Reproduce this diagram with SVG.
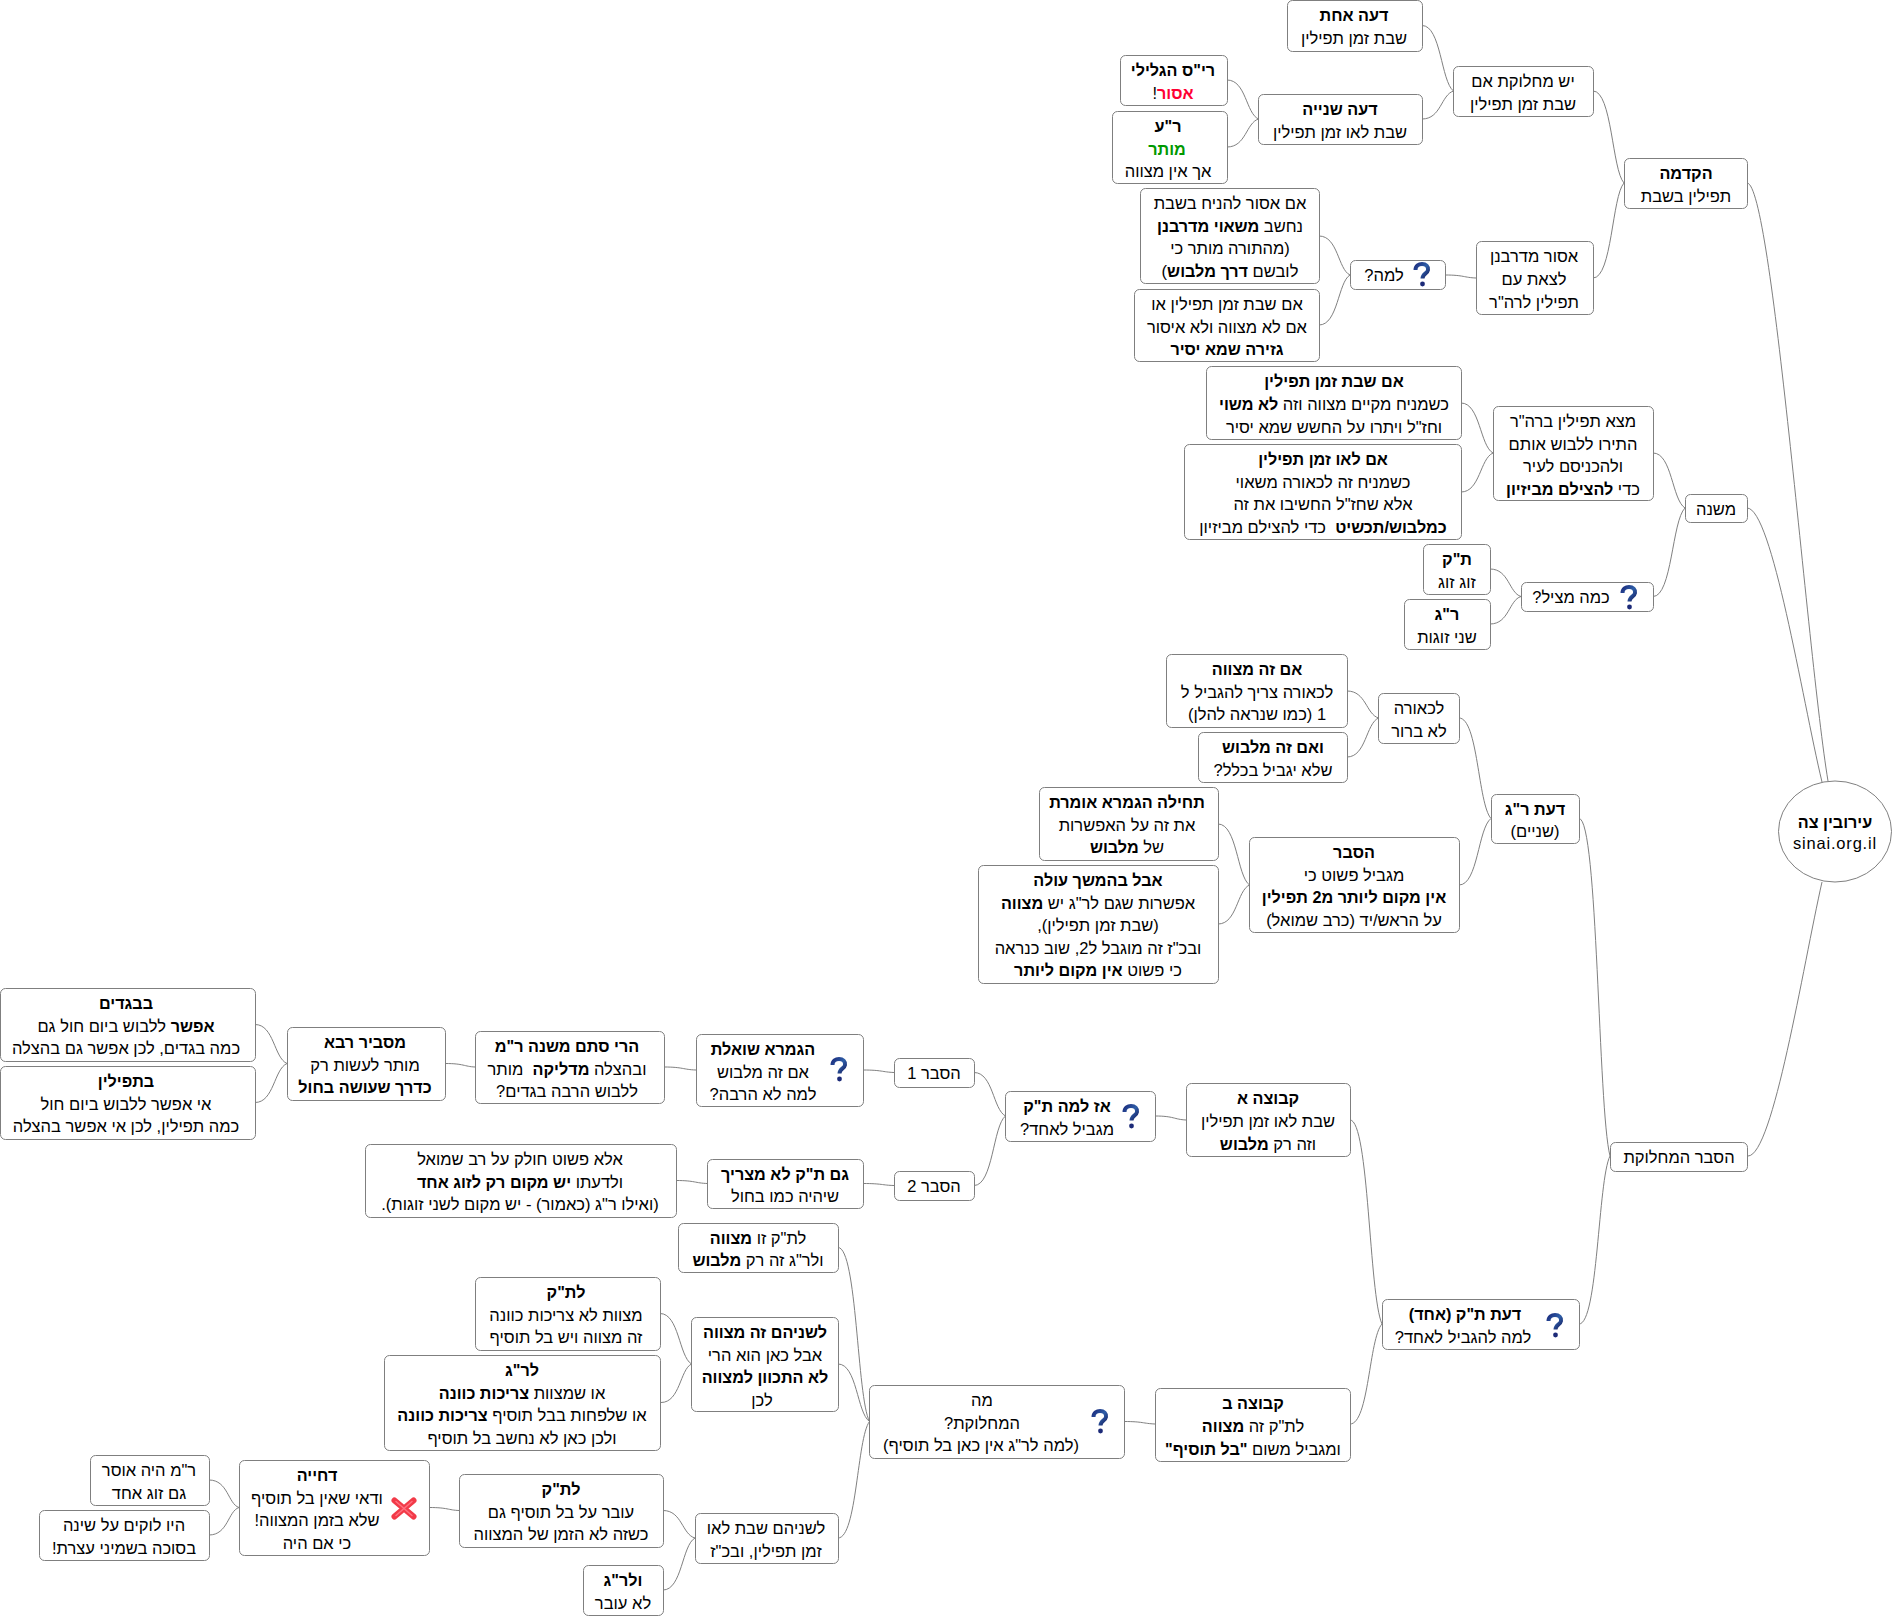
<svg xmlns="http://www.w3.org/2000/svg" width="1892" height="1616" viewBox="0 0 1892 1616">
<style>
rect.n,ellipse.n{fill:#fff;stroke:#7f7f7f;stroke-width:1}
#connectors path{fill:none;stroke:#808080;stroke-width:1}
text{font-family:"Liberation Sans",Arial,sans-serif;font-size:16.500px;fill:#000;text-anchor:middle;direction:rtl}
.b{font-weight:bold;font-size:16.200px}
</style>
<defs>
<linearGradient id="qg" x1="0" y1="0" x2="1" y2="1"><stop offset="0" stop-color="#1c2f80"/><stop offset=".5" stop-color="#2f5fa8"/><stop offset="1" stop-color="#141c60"/></linearGradient>
<symbol id="q" viewBox="0 0 18 25" width="18" height="25"><path d="M2.5 8C2.5 3.500 6 2 9 2C13 2 15.500 4.500 15 8C14.500 11.500 9.500 11.500 9.500 16.500" fill="none" stroke="url(#qg)" stroke-width="4"/><circle cx="9.500" cy="22" r="2.400" fill="#1c2a78"/></symbol>
<symbol id="x" viewBox="0 0 26 23" width="26" height="23"><path d="M3.500 3.500L22.500 19.500M22.500 3.500L3.500 19.500" fill="none" stroke="#f23a48" stroke-width="6" stroke-linecap="round"/><path d="M5 4.500L21 18.500M21 4.500L5 18.500" fill="none" stroke="#ff7080" stroke-width="1.500" stroke-linecap="round"/></symbol>
</defs>
<g id="connectors">
<path d="M1422 25.500c19 0 19 56 31.500 65.500"/>
<path d="M1422 119c19 0 19-24 31.500-28"/>
<path d="M1227 80c19 0 19 33.500 31.500 39"/>
<path d="M1227 147c19 0 19-24 31.500-28"/>
<path d="M1593 91c19 0 19 79 31 92"/>
<path d="M1593 278c19 0 19-82 31-95"/>
<path d="M1319 236c19 0 19 33.500 31 39"/>
<path d="M1319 325c19 0 19-43 31-50"/>
<path d="M1445 275c19 0 19 2.600 31 3"/>
<path d="M1747 183c25 0 60 470 81 598"/>
<path d="M1747 508c25 0 55 190 75 274"/>
<path d="M1461 403c19 0 19 43 32 50"/>
<path d="M1461 492c19 0 19-33.500 32-39"/>
<path d="M1653 453c19 0 19 47 32 55"/>
<path d="M1490 569c19 0 19 24 31 27.500"/>
<path d="M1490 624c19 0 19-24 31-27.500"/>
<path d="M1653 596.500c19 0 19-76 32-88.500"/>
<path d="M1347 691c19 0 19 23 31.500 27"/>
<path d="M1347 757c19 0 19-33.500 31.500-39"/>
<path d="M1459 718c19 0 19 86 32 100.500"/>
<path d="M1218 824c19 0 19 52 31.500 61"/>
<path d="M1218 924c19 0 19-33.500 31.500-39"/>
<path d="M1459 885c19 0 19-57 32-66.500"/>
<path d="M1579 818.500c19 0 19 290 31 337.500"/>
<path d="M1579 1324c19 0 19-144 31-168"/>
<path d="M1748 1156c25 0 55-190 74-274"/>
<path d="M1350 1120c19 0 19 175 32 204"/>
<path d="M1350 1424c19 0 19-86 32-100"/>
<path d="M1155 1116c19 0 19 3.400 31 4"/>
<path d="M974 1072.500c19 0 19 37 31.500 43.500"/>
<path d="M974 1185.500c19 0 19-60 31.500-69.500"/>
<path d="M863 1070c19 0 19 2 31 2.500"/>
<path d="M863 1183.500c19 0 19 1.700 31 2"/>
<path d="M664 1067c19 0 19 2.600 32 3"/>
<path d="M445 1063.500c19 0 19 3 30 3.500"/>
<path d="M255 1024.500c19 0 19 33.500 32 39"/>
<path d="M255 1102.500c19 0 19-33.500 32-39"/>
<path d="M676 1180.500c19 0 19 2.600 31.500 3"/>
<path d="M1124 1421.500c19 0 19 2 31 2.500"/>
<path d="M838 1247.500c19 0 19 150 31.500 174"/>
<path d="M838 1364c19 0 19 49 31.500 57.500"/>
<path d="M838 1538c19 0 19-100 31.500-116.500"/>
<path d="M660 1313.500c19 0 19 43 31.500 50.500"/>
<path d="M661 1402.500c19 0 19-33 30.500-38.500"/>
<path d="M663 1510.500c19 0 19 24 32 27.500"/>
<path d="M663 1590c19 0 19-45 32-52"/>
<path d="M429 1507.500c19 0 19 2.600 30 3"/>
<path d="M209 1480c19 0 19 24 30 27.500"/>
<path d="M209 1535c19 0 19-24 30-27.500"/>
</g>
<g id="root"><ellipse class="n" cx="1835" cy="831.500" rx="56.500" ry="50.500"/><text class="b" x="1835" y="828">עירובין צה</text><text x="1835" y="849" style="direction:ltr;letter-spacing:.8px">sinai.org.il</text></g>
<g id="n-hakdama"><rect class="n" x="1624.500" y="158.500" width="123" height="50" rx="5"/><text class="b" x="1686" y="179">הקדמה</text><text x="1686" y="202">תפילין בשבת</text></g>
<g id="n-yesh"><rect class="n" x="1453.500" y="66.500" width="140" height="50" rx="5"/><text x="1523" y="87">יש מחלוקת אם</text><text x="1523" y="110">שבת זמן תפילין</text></g>
<g id="n-daat1"><rect class="n" x="1287.500" y="0.500" width="135" height="51" rx="5"/><text class="b" x="1354" y="21">דעה אחת</text><text x="1354" y="44">שבת זמן תפילין</text></g>
<g id="n-daat2"><rect class="n" x="1258.500" y="94.500" width="164" height="50" rx="5"/><text class="b" x="1340" y="115">דעה שנייה</text><text x="1340" y="138">שבת לאו זמן תפילין</text></g>
<g id="n-ris"><rect class="n" x="1120.500" y="55.500" width="107" height="50" rx="5"/><text class="b" x="1173" y="76">רי"ס הגלילי</text><text x="1173" y="99"><tspan class="b" style="fill:#ff0033">אסור</tspan>!</text></g>
<g id="n-ra"><rect class="n" x="1112.500" y="111.500" width="115" height="72" rx="5"/><text class="b" x="1168" y="132">ר"ע</text><text class="b" x="1167" y="155" style="fill:#009900">מותר</text><text x="1168" y="177">אך אין מצווה</text></g>
<g id="n-asur"><rect class="n" x="1476.500" y="241.500" width="117" height="73" rx="5"/><text x="1534" y="262">אסור מדרבנן</text><text x="1534" y="285">לצאת עם</text><text x="1534" y="308">תפילין לרה"ר</text></g>
<g id="n-lama"><rect class="n" x="1350.500" y="260.500" width="95" height="29" rx="5"/><text x="1384" y="281">למה?</text><use href="#q" x="1413" y="262"/></g>
<g id="n-im-asur"><rect class="n" x="1140.500" y="188.500" width="179" height="95" rx="5"/><text x="1230" y="209">אם אסור להניח בשבת</text><text x="1230" y="232">נחשב <tspan class="b">משאוי מדרבנן</tspan></text><text x="1230" y="254">(מהתורה מותר כי</text><text x="1230" y="277">לובשם <tspan class="b">דרך מלבוש</tspan>)</text></g>
<g id="n-im-shabat"><rect class="n" x="1134.500" y="289.500" width="185" height="72" rx="5"/><text x="1227" y="310">אם שבת זמן תפילין או</text><text x="1227" y="333">אם לא מצווה ולא איסור</text><text class="b" x="1227" y="355">גזירה שמא יסיר</text></g>
<g id="n-mishna"><rect class="n" x="1685.500" y="494.500" width="62" height="28" rx="5"/><text x="1716" y="515">משנה</text></g>
<g id="n-matza"><rect class="n" x="1493.500" y="406.500" width="160" height="94" rx="5"/><text x="1573" y="427">מצא תפילין ברה"ר</text><text x="1573" y="450">התירו ללבוש אותם</text><text x="1573" y="472">ולהכניסם לעיר</text><text x="1573" y="495">כדי <tspan class="b">להצילם מביזיון</tspan></text></g>
<g id="n-zman"><rect class="n" x="1206.500" y="366.500" width="255" height="73" rx="5"/><text class="b" x="1334" y="387">אם שבת זמן תפילין</text><text x="1334" y="410">כשמניח מקיים מצווה וזה <tspan class="b">לא משוי</tspan></text><text x="1334" y="433">וחז"ל ויתרו על החשש שמא יסיר</text></g>
<g id="n-lo-zman"><rect class="n" x="1184.500" y="444.500" width="277" height="95" rx="5"/><text class="b" x="1323" y="465">אם לאו זמן תפילין</text><text x="1323" y="488">כשמניח זה לכאורה משאוי</text><text x="1323" y="510">אלא שחז"ל החשיבו את זה</text><text x="1323" y="533"><tspan class="b">כמלבוש/תכשיט</tspan>&#160; כדי להצילם מביזיון</text></g>
<g id="n-kama"><rect class="n" x="1521.500" y="582.500" width="132" height="29" rx="5"/><text x="1571" y="603">כמה מציל?</text><use href="#q" x="1620" y="585"/></g>
<g id="n-tk"><rect class="n" x="1423.500" y="544.500" width="67" height="50" rx="5"/><text class="b" x="1457" y="565">ת"ק</text><text x="1457" y="588">זוג זוג</text></g>
<g id="n-rg"><rect class="n" x="1404.500" y="599.500" width="86" height="50" rx="5"/><text class="b" x="1447" y="620">ר"ג</text><text x="1447" y="643">שני זוגות</text></g>
<g id="n-daat-rg"><rect class="n" x="1491.500" y="794.500" width="88" height="49" rx="5"/><text class="b" x="1535" y="815">דעת ר"ג</text><text x="1535" y="837">(שניים)</text></g>
<g id="n-lekaora"><rect class="n" x="1378.500" y="693.500" width="81" height="50" rx="5"/><text x="1419" y="714">לכאורה</text><text x="1419" y="737">לא ברור</text></g>
<g id="n-mitzva"><rect class="n" x="1166.500" y="654.500" width="181" height="73" rx="5"/><text class="b" x="1257" y="675">אם זה מצווה</text><text x="1257" y="698">לכאורה צריך להגביל ל</text><text x="1257" y="720">1 (כמו שנראה להלן)</text></g>
<g id="n-malbush"><rect class="n" x="1198.500" y="732.500" width="149" height="50" rx="5"/><text class="b" x="1273" y="753">ואם זה מלבוש</text><text x="1273" y="776">שלא יגביל בכלל?</text></g>
<g id="n-hesber"><rect class="n" x="1249.500" y="837.500" width="210" height="95" rx="5"/><text class="b" x="1354" y="858">הסבר</text><text x="1354" y="881">מגביל פשוט כי</text><text class="b" x="1354" y="903">אין מקום ליותר מ2 תפילין</text><text x="1354" y="926">על הראש/יד (כרב שמואל)</text></g>
<g id="n-techila"><rect class="n" x="1039.500" y="787.500" width="179" height="73" rx="5"/><text class="b" x="1127" y="808">תחילה הגמרא אומרת</text><text x="1127" y="831">את זה על האפשרות</text><text x="1127" y="853">של <tspan class="b">מלבוש</tspan></text></g>
<g id="n-aval"><rect class="n" x="978.500" y="865.500" width="240" height="118" rx="5"/><text class="b" x="1098" y="886">אבל בהמשך עולה</text><text x="1098" y="909">אפשרות שגם לר"ג יש <tspan class="b">מצווה</tspan></text><text x="1098" y="931">(שבת זמן תפילין),</text><text x="1098" y="954">ובכ"ז זה מוגבל ל2, שוב כנראה</text><text x="1098" y="976">כי פשוט <tspan class="b">אין מקום ליותר</tspan></text></g>
<g id="n-machloket"><rect class="n" x="1610.500" y="1142.500" width="137" height="29" rx="5"/><text x="1679" y="1163">הסבר המחלוקת</text></g>
<g id="n-daat-tk"><rect class="n" x="1382.500" y="1299.500" width="197" height="50" rx="5"/><text class="b" x="1465" y="1320">דעת ת"ק (אחד)</text><text x="1463" y="1343">למה להגביל לאחד?</text><use href="#q" x="1546" y="1313"/></g>
<g id="n-kvutza-a"><rect class="n" x="1186.500" y="1083.500" width="164" height="73" rx="5"/><text class="b" x="1268" y="1104">קבוצה א</text><text x="1268" y="1127">שבת לאו זמן תפילין</text><text x="1268" y="1150">וזה רק <tspan class="b">מלבוש</tspan></text></g>
<g id="n-kvutza-b"><rect class="n" x="1155.500" y="1388.500" width="195" height="73" rx="5"/><text class="b" x="1253" y="1409">קבוצה ב</text><text x="1253" y="1432">לת"ק זה <tspan class="b">מצווה</tspan></text><text x="1253" y="1455">ומגביל משום <tspan class="b">"בל תוסיף"</tspan></text></g>
<g id="n-azlama"><rect class="n" x="1005.500" y="1091.500" width="150" height="50" rx="5"/><text class="b" x="1067" y="1112">אז למה ת"ק</text><text x="1067" y="1135">מגביל לאחד?</text><use href="#q" x="1122" y="1104"/></g>
<g id="n-h1"><rect class="n" x="894.500" y="1058.500" width="80" height="29" rx="5"/><text x="934" y="1079">הסבר 1</text></g>
<g id="n-h2"><rect class="n" x="894.500" y="1171.500" width="80" height="29" rx="5"/><text x="934" y="1192">הסבר 2</text></g>
<g id="n-gemara"><rect class="n" x="696.500" y="1034.500" width="167" height="72" rx="5"/><text class="b" x="763" y="1055">הגמרא שואלת</text><text x="763" y="1078">אם זה מלבוש</text><text x="763" y="1100">למה לא הרבה?</text><use href="#q" x="830" y="1057"/></g>
<g id="n-gamtk"><rect class="n" x="707.500" y="1159.500" width="156" height="49" rx="5"/><text class="b" x="785" y="1180">גם ת"ק לא מצריך</text><text x="785" y="1202">שיהיה כמו בחול</text></g>
<g id="n-harei"><rect class="n" x="475.500" y="1031.500" width="189" height="72" rx="5"/><text class="b" x="567" y="1052">הרי סתם משנה ר"מ</text><text x="567" y="1075">ובהצלה <tspan class="b">מדליקה</tspan>&#160; מותר</text><text x="567" y="1097">ללבוש הרבה בגדים?</text></g>
<g id="n-masbir"><rect class="n" x="287.500" y="1027.500" width="158" height="73" rx="5"/><text class="b" x="365" y="1048">מסביר רבא</text><text x="365" y="1071">מותר לעשות רק</text><text class="b" x="365" y="1093">כדרך שעושה בחול</text></g>
<g id="n-begadim"><rect class="n" x="0.500" y="988.500" width="255" height="73" rx="5"/><text class="b" x="126" y="1009">בבגדים</text><text x="126" y="1032"><tspan class="b">אפשר</tspan> ללבוש ביום חול גם</text><text x="126" y="1054">כמה בגדים, לכן אפשר גם בהצלה</text></g>
<g id="n-tefilin"><rect class="n" x="0.500" y="1066.500" width="255" height="73" rx="5"/><text class="b" x="126" y="1087">בתפילין</text><text x="126" y="1110">אי אפשר ללבוש ביום חול</text><text x="126" y="1132">כמה תפילין, לכן אי אפשר בהצלה</text></g>
<g id="n-ela"><rect class="n" x="365.500" y="1144.500" width="311" height="73" rx="5"/><text x="520" y="1165">אלא פשוט חולק על רב שמואל</text><text x="520" y="1188">ולדעתו <tspan class="b">יש מקום רק לזוג אחד</tspan></text><text x="520" y="1210">(ואילו ר"ג (כאמור) - יש מקום לשני זוגות).</text></g>
<g id="n-ma"><rect class="n" x="869.500" y="1385.500" width="255" height="73" rx="5"/><text x="982" y="1406">מה</text><text x="982" y="1429">המחלוקת?</text><text x="981" y="1451">(למה לר"ג אין כאן בל תוסיף)</text><use href="#q" x="1091" y="1409"/></g>
<g id="n-letk-zu"><rect class="n" x="678.500" y="1223.500" width="160" height="49" rx="5"/><text x="758" y="1244">לת"ק זו <tspan class="b">מצווה</tspan></text><text x="758" y="1266">ולר"ג זה רק <tspan class="b">מלבוש</tspan></text></g>
<g id="n-shneihem"><rect class="n" x="691.500" y="1317.500" width="147" height="94" rx="5"/><text class="b" x="765" y="1338">לשניהם זה מצווה</text><text x="765" y="1361">אבל כאן הוא הרי</text><text class="b" x="765" y="1383">לא התכוון למצווה</text><text x="762" y="1406">לכן</text></g>
<g id="n-letk"><rect class="n" x="475.500" y="1277.500" width="185" height="73" rx="5"/><text class="b" x="566" y="1298">לת"ק</text><text x="566" y="1321">מצוות לא צריכות כוונה</text><text x="566" y="1343">זה מצווה ויש בל תוסיף</text></g>
<g id="n-lerg"><rect class="n" x="384.500" y="1355.500" width="276" height="95" rx="5"/><text class="b" x="522" y="1376">לר"ג</text><text x="522" y="1399">או שמצוות <tspan class="b">צריכות כוונה</tspan></text><text x="522" y="1421">או שלפחות בבל תוסיף <tspan class="b">צריכות כוונה</tspan></text><text x="522" y="1444">ולכן כאן לא נחשב בל תוסיף</text></g>
<g id="n-shabat-lo"><rect class="n" x="695.500" y="1513.500" width="143" height="50" rx="5"/><text x="766" y="1534">לשניהם שבת לאו</text><text x="766" y="1557">זמן תפילין, ובכ"ז</text></g>
<g id="n-letk2"><rect class="n" x="459.500" y="1474.500" width="204" height="73" rx="5"/><text class="b" x="561" y="1495">לת"ק</text><text x="561" y="1518">עובר על בל תוסיף גם</text><text x="561" y="1540">כשזה לא הזמן של המצווה</text></g>
<g id="n-velerg"><rect class="n" x="583.500" y="1565.500" width="80" height="50" rx="5"/><text class="b" x="623" y="1586">ולר"ג</text><text x="623" y="1609">לא עובר</text></g>
<g id="n-dchiya"><rect class="n" x="239.500" y="1460.500" width="190" height="95" rx="5"/><text class="b" x="317" y="1481">דחייה</text><text x="317" y="1504">ודאי שאין בל תוסיף</text><text x="317" y="1526">שלא בזמן המצווה!</text><text x="317" y="1549">כי אם היה</text><use href="#x" x="391" y="1497"/></g>
<g id="n-rm"><rect class="n" x="90.500" y="1455.500" width="119" height="50" rx="5"/><text x="149" y="1476">ר"מ היה אוסר</text><text x="149" y="1499">גם זוג אחד</text></g>
<g id="n-hayu"><rect class="n" x="39.500" y="1510.500" width="170" height="50" rx="5"/><text x="124" y="1531">היו לוקים על שינה</text><text x="124" y="1554">בסוכה בשמיני עצרת!</text></g>
</svg>
